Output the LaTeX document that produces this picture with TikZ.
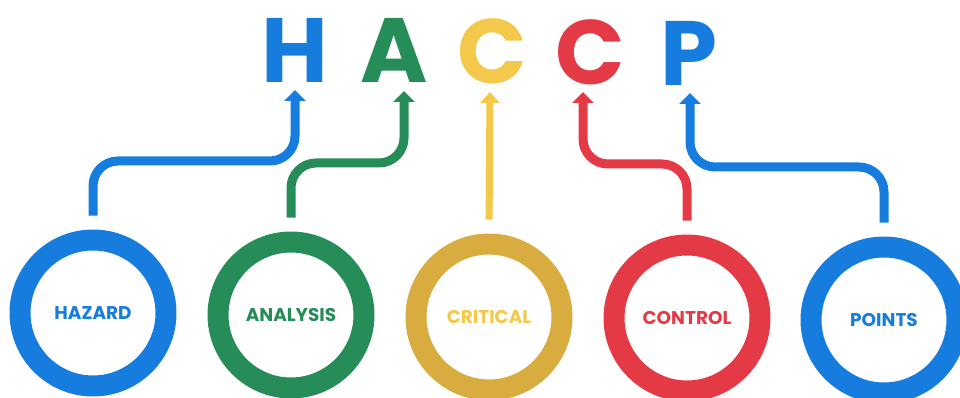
\documentclass[tikz,border=0pt]{standalone}
\usepackage{fontspec}
\setmainfont{Poppins}
\usetikzlibrary{arrows.meta}
\definecolor{hblue}{RGB}{22,124,222}
\definecolor{agreen}{RGB}{38,140,88}
\definecolor{cyellow}{RGB}{244,200,74}
\definecolor{ringyellow}{RGB}{216,172,62}
\definecolor{cred}{RGB}{228,58,70}

\begin{document}
\begin{tikzpicture}[x=0.02cm,y=-0.02cm,
    letter/.style={anchor=base,inner sep=0pt,font=\fontsize{52}{52}\selectfont\bfseries},
    ring/.style={circle,draw,line width=0.42cm,minimum size=2.92cm,inner sep=0pt,
      font=\fontsize{10.5}{12}\selectfont\bfseries},
    conn/.style={line width=0.18cm,rounded corners=0.5cm,shorten <=0.28cm,
      -{Triangle[width=0.42cm,length=0.22cm]}}]
    \useasboundingbox (0,0) rectangle (960,398);
    % top letters
    \node[letter,text=hblue] (lH) at (295,83) {H};
    \node[letter,text=agreen] (lA) at (394,83) {A};
    \node[letter,text=cyellow] (lC1) at (492,84) {C};
    \node[letter,text=cred] (lC2) at (590,85) {C};
    \node[letter,text=hblue] (lP) at (689,86) {P};
    \coordinate (tH) at (295,90);
    \coordinate (tA) at (404,91);
    \coordinate (tC1) at (490,92);
    \coordinate (tC2) at (583,92);
    \coordinate (tP) at (690,93);
    % circles
    \node[ring,draw=hblue,text=hblue] (cHaz) at (93,313) {HAZARD};
    \node[ring,draw=agreen,text=agreen] (cAna) at (291,315) {ANALYSIS};
    \node[ring,draw=ringyellow,text=cyellow] (cCri) at (489,317) {CRITICAL};
    \node[ring,draw=cred,text=cred] (cCon) at (687,318) {CONTROL};
    \node[ring,draw=hblue,text=hblue] (cPoi) at (884,320) {POINTS};
    % connectors
    \draw[conn,hblue] (cHaz.north) |- (tH |- 0,161) -- (tH);
    \draw[conn,agreen] (cAna.north) |- (tA |- 0,163) -- (tA);
    \draw[conn,cyellow,line width=0.14cm,-{Triangle[width=0.38cm,length=0.22cm]}] (cCri.north) -- (tC1);
    \draw[conn,cred] (cCon.north) |- (tC2 |- 0,164) -- (tC2);
    \draw[conn,hblue] (cPoi.north) |- (tP |- 0,167) -- (tP);
\end{tikzpicture}
\end{document}
